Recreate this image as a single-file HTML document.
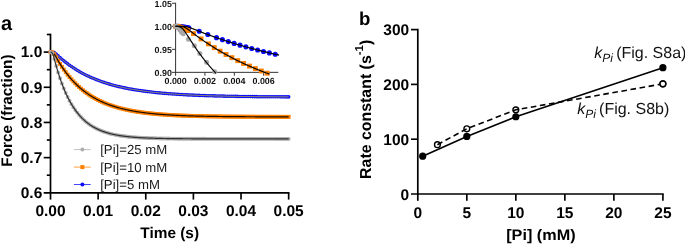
<!DOCTYPE html>
<html lang="en"><head><meta charset="utf-8"><title>Figure</title>
<style>html,body{margin:0;padding:0;background:#fff;}body{width:685px;height:244px;overflow:hidden;}</style>
</head><body>
<svg width="685" height="244" viewBox="0 0 685 244" style="display:block;font-family:'Liberation Sans', Arial, sans-serif;text-rendering:geometricPrecision;will-change:transform">
<rect width="685" height="244" fill="#fff"/>
<g stroke="#000" stroke-width="1.7" fill="none" stroke-linecap="butt">
<path d="M50.5 33.69 V199.60"/>
<path d="M43.70 192.80 H289.47"/>
</g>
<g stroke="#000" stroke-width="1.65" fill="none">
<path d="M43.70 52.10 H50.5"/>
<path d="M43.70 87.28 H50.5"/>
<path d="M43.70 122.45 H50.5"/>
<path d="M43.70 157.63 H50.5"/>
<path d="M46.80 34.51 H50.5"/>
<path d="M46.80 69.69 H50.5"/>
<path d="M46.80 104.86 H50.5"/>
<path d="M46.80 140.04 H50.5"/>
<path d="M46.80 175.21 H50.5"/>
<path d="M98.13 192.80 V199.60"/>
<path d="M145.76 192.80 V199.60"/>
<path d="M193.39 192.80 V199.60"/>
<path d="M241.02 192.80 V199.60"/>
<path d="M288.65 192.80 V199.60"/>
</g>
<defs>
<marker id="mg" markerWidth="5" markerHeight="5" refX="2.5" refY="2.5" markerUnits="userSpaceOnUse"><circle cx="2.5" cy="2.5" r="1.95" fill="#adadad"/></marker>
<marker id="mo" markerWidth="5" markerHeight="5" refX="2.5" refY="2.5" markerUnits="userSpaceOnUse"><rect x="0.55" y="0.55" width="3.9" height="3.9" fill="#ff8000"/></marker>
<marker id="mb" markerWidth="5" markerHeight="5" refX="2.5" refY="2.5" markerUnits="userSpaceOnUse"><circle cx="2.5" cy="2.5" r="1.78" fill="#0a0aff"/></marker>
</defs>
<path d="M50.50 52.10 L52.41 52.12 L54.31 52.55 L56.22 54.09 L58.12 55.88 L60.03 57.61 L61.93 59.26 L63.84 60.85 L65.74 62.37 L67.65 63.83 L69.55 65.22 L71.46 66.56 L73.36 67.84 L75.27 69.07 L77.17 70.24 L79.08 71.37 L80.98 72.45 L82.89 73.48 L84.79 74.47 L86.70 75.42 L88.60 76.33 L90.51 77.20 L92.41 78.04 L94.32 78.84 L96.22 79.60 L98.13 80.34 L100.04 81.04 L101.94 81.71 L103.85 82.36 L105.75 82.98 L107.66 83.57 L109.56 84.14 L111.47 84.68 L113.37 85.20 L115.28 85.70 L117.18 86.18 L119.09 86.64 L120.99 87.08 L122.90 87.50 L124.80 87.90 L126.71 88.29 L128.61 88.66 L130.52 89.01 L132.42 89.35 L134.33 89.68 L136.23 89.99 L138.14 90.29 L140.04 90.58 L141.95 90.85 L143.85 91.11 L145.76 91.37 L147.67 91.61 L149.57 91.84 L151.48 92.06 L153.38 92.27 L155.29 92.47 L157.19 92.67 L159.10 92.86 L161.00 93.04 L162.91 93.21 L164.81 93.37 L166.72 93.53 L168.62 93.68 L170.53 93.82 L172.43 93.96 L174.34 94.09 L176.24 94.22 L178.15 94.34 L180.05 94.46 L181.96 94.57 L183.86 94.68 L185.77 94.78 L187.67 94.88 L189.58 94.97 L191.48 95.06 L193.39 95.15 L195.30 95.23 L197.20 95.31 L199.11 95.39 L201.01 95.46 L202.92 95.53 L204.82 95.60 L206.73 95.66 L208.63 95.72 L210.54 95.78 L212.44 95.84 L214.35 95.89 L216.25 95.94 L218.16 95.99 L220.06 96.04 L221.97 96.08 L223.87 96.13 L225.78 96.17 L227.68 96.21 L229.59 96.25 L231.49 96.28 L233.40 96.32 L235.30 96.35 L237.21 96.39 L239.11 96.42 L241.02 96.45 L242.93 96.47 L244.83 96.50 L246.74 96.53 L248.64 96.55 L250.55 96.58 L252.45 96.60 L254.36 96.62 L256.26 96.64 L258.17 96.66 L260.07 96.68 L261.98 96.70 L263.88 96.72 L265.79 96.74 L267.69 96.75 L269.60 96.77 L271.50 96.78 L273.41 96.80 L275.31 96.81 L277.22 96.82 L279.12 96.84 L281.03 96.85 L282.93 96.86 L284.84 96.87 L286.74 96.88 L288.65 96.89" fill="none" stroke="none" marker-start="url(#mb)" marker-mid="url(#mb)" marker-end="url(#mb)"/>
<path d="M50.50 52.10 L51.29 52.10 L52.09 52.11 L52.88 52.15 L53.68 52.29 L54.47 52.64 L55.26 53.23 L56.06 53.95 L56.85 54.69 L57.64 55.44 L58.44 56.17 L59.23 56.90 L60.03 57.61 L60.82 58.31 L61.61 58.99 L62.41 59.67 L63.20 60.33 L64.00 60.98 L64.79 61.62 L65.58 62.25 L66.38 62.86 L67.17 63.47 L67.96 64.06 L68.76 64.65 L69.55 65.22 L70.35 65.79 L71.14 66.34 L71.93 66.88 L72.73 67.42 L73.52 67.94 L74.31 68.46 L75.11 68.97 L75.90 69.46 L76.70 69.95 L77.49 70.43 L78.28 70.90 L79.08 71.37 L79.87 71.82 L80.67 72.27 L81.46 72.71 L82.25 73.14 L83.05 73.56 L83.84 73.98 L84.63 74.39 L85.43 74.79 L86.22 75.19 L87.02 75.57 L87.81 75.96 L88.60 76.33 L89.40 76.70 L90.19 77.06 L90.99 77.41 L91.78 77.76 L92.57 78.10 L93.37 78.44 L94.16 78.77 L94.95 79.09 L95.75 79.41 L96.54 79.73 L97.34 80.03 L98.13 80.34 L98.92 80.63 L99.72 80.92 L100.51 81.21 L101.31 81.49 L102.10 81.77 L102.89 82.04 L103.69 82.31 L104.48 82.57 L105.27 82.83 L106.07 83.08 L106.86 83.33 L107.66 83.57 L108.45 83.81 L109.24 84.04 L110.04 84.28 L110.83 84.50 L111.63 84.73 L112.42 84.95 L113.21 85.16 L114.01 85.37 L114.80 85.58 L115.59 85.78 L116.39 85.98 L117.18 86.18 L117.98 86.37 L118.77 86.56 L119.56 86.75 L120.36 86.93 L121.15 87.11 L121.94 87.29 L122.74 87.47 L123.53 87.64 L124.33 87.80 L125.12 87.97 L125.91 88.13 L126.71 88.29 L127.50 88.45 L128.30 88.60 L129.09 88.75 L129.88 88.90 L130.68 89.04 L131.47 89.19 L132.26 89.33 L133.06 89.46 L133.85 89.60 L134.65 89.73 L135.44 89.86 L136.23 89.99 L137.03 90.12 L137.82 90.24 L138.62 90.36 L139.41 90.48 L140.20 90.60 L141.00 90.72 L141.79 90.83 L142.58 90.94 L143.38 91.05 L144.17 91.16 L144.97 91.26 L145.76 91.37 L146.55 91.47 L147.35 91.57 L148.14 91.67 L148.94 91.76 L149.73 91.86 L150.52 91.95 L151.32 92.04 L152.11 92.13 L152.90 92.22 L153.70 92.31 L154.49 92.39 L155.29 92.47 L156.08 92.56 L156.87 92.64 L157.67 92.72 L158.46 92.79 L159.26 92.87 L160.05 92.95 L160.84 93.02 L161.64 93.09 L162.43 93.16 L163.22 93.23 L164.02 93.30 L164.81 93.37 L165.61 93.44 L166.40 93.50 L167.19 93.57 L167.99 93.63 L168.78 93.69 L169.57 93.75 L170.37 93.81 L171.16 93.87 L171.96 93.93 L172.75 93.98 L173.54 94.04 L174.34 94.09 L175.13 94.15 L175.93 94.20 L176.72 94.25 L177.51 94.30 L178.31 94.35 L179.10 94.40 L179.89 94.45 L180.69 94.50 L181.48 94.54 L182.28 94.59 L183.07 94.63 L183.86 94.68 L184.66 94.72 L185.45 94.76 L186.25 94.80 L187.04 94.85 L187.83 94.89 L188.63 94.93 L189.42 94.96 L190.21 95.00 L191.01 95.04 L191.80 95.08 L192.60 95.11 L193.39 95.15 L194.18 95.18 L194.98 95.22 L195.77 95.25 L196.57 95.28 L197.36 95.32 L198.15 95.35 L198.95 95.38 L199.74 95.41 L200.53 95.44 L201.33 95.47 L202.12 95.50 L202.92 95.53 L203.71 95.56 L204.50 95.59 L205.30 95.61 L206.09 95.64 L206.89 95.67 L207.68 95.69 L208.47 95.72 L209.27 95.74 L210.06 95.77 L210.85 95.79 L211.65 95.81 L212.44 95.84 L213.24 95.86 L214.03 95.88 L214.82 95.90 L215.62 95.93 L216.41 95.95 L217.20 95.97 L218.00 95.99 L218.79 96.01 L219.59 96.03 L220.38 96.05 L221.17 96.07 L221.97 96.08 L222.76 96.10 L223.56 96.12 L224.35 96.14 L225.14 96.16 L225.94 96.17 L226.73 96.19 L227.52 96.21 L228.32 96.22 L229.11 96.24 L229.91 96.25 L230.70 96.27 L231.49 96.28 L232.29 96.30 L233.08 96.31 L233.88 96.33 L234.67 96.34 L235.46 96.36 L236.26 96.37 L237.05 96.38 L237.84 96.40 L238.64 96.41 L239.43 96.42 L240.23 96.43 L241.02 96.45 L241.81 96.46 L242.61 96.47 L243.40 96.48 L244.20 96.49 L244.99 96.50 L245.78 96.52 L246.58 96.53 L247.37 96.54 L248.16 96.55 L248.96 96.56 L249.75 96.57 L250.55 96.58 L251.34 96.59 L252.13 96.60 L252.93 96.61 L253.72 96.61 L254.52 96.62 L255.31 96.63 L256.10 96.64 L256.90 96.65 L257.69 96.66 L258.48 96.67 L259.28 96.67 L260.07 96.68 L260.87 96.69 L261.66 96.70 L262.45 96.71 L263.25 96.71 L264.04 96.72 L264.83 96.73 L265.63 96.73 L266.42 96.74 L267.22 96.75 L268.01 96.75 L268.80 96.76 L269.60 96.77 L270.39 96.77 L271.19 96.78 L271.98 96.79 L272.77 96.79 L273.57 96.80 L274.36 96.80 L275.15 96.81 L275.95 96.81 L276.74 96.82 L277.54 96.83 L278.33 96.83 L279.12 96.84 L279.92 96.84 L280.71 96.85 L281.51 96.85 L282.30 96.86 L283.09 96.86 L283.89 96.87 L284.68 96.87 L285.47 96.87 L286.27 96.88 L287.06 96.88 L287.86 96.89 L288.65 96.89" fill="none" stroke="#a0a052" stroke-width="1.0"/>
<path d="M50.50 52.10 L52.41 52.28 L54.31 54.11 L56.22 57.43 L58.12 60.73 L60.03 63.86 L61.93 66.81 L63.84 69.59 L65.74 72.22 L67.65 74.71 L69.55 77.06 L71.46 79.27 L73.36 81.37 L75.27 83.34 L77.17 85.21 L79.08 86.97 L80.98 88.64 L82.89 90.21 L84.79 91.70 L86.70 93.10 L88.60 94.42 L90.51 95.68 L92.41 96.86 L94.32 97.97 L96.22 99.03 L98.13 100.02 L100.04 100.96 L101.94 101.85 L103.85 102.69 L105.75 103.48 L107.66 104.23 L109.56 104.93 L111.47 105.60 L113.37 106.23 L115.28 106.82 L117.18 107.39 L119.09 107.92 L120.99 108.42 L122.90 108.89 L124.80 109.34 L126.71 109.76 L128.61 110.16 L130.52 110.53 L132.42 110.89 L134.33 111.23 L136.23 111.54 L138.14 111.84 L140.04 112.12 L141.95 112.39 L143.85 112.64 L145.76 112.88 L147.67 113.11 L149.57 113.32 L151.48 113.52 L153.38 113.71 L155.29 113.89 L157.19 114.06 L159.10 114.22 L161.00 114.37 L162.91 114.51 L164.81 114.64 L166.72 114.77 L168.62 114.89 L170.53 115.00 L172.43 115.11 L174.34 115.21 L176.24 115.31 L178.15 115.40 L180.05 115.48 L181.96 115.56 L183.86 115.64 L185.77 115.71 L187.67 115.78 L189.58 115.84 L191.48 115.90 L193.39 115.96 L195.30 116.01 L197.20 116.06 L199.11 116.11 L201.01 116.16 L202.92 116.20 L204.82 116.24 L206.73 116.28 L208.63 116.31 L210.54 116.35 L212.44 116.38 L214.35 116.41 L216.25 116.44 L218.16 116.47 L220.06 116.49 L221.97 116.52 L223.87 116.54 L225.78 116.56 L227.68 116.58 L229.59 116.60 L231.49 116.62 L233.40 116.64 L235.30 116.65 L237.21 116.67 L239.11 116.68 L241.02 116.70 L242.93 116.71 L244.83 116.72 L246.74 116.73 L248.64 116.74 L250.55 116.75 L252.45 116.76 L254.36 116.77 L256.26 116.78 L258.17 116.79 L260.07 116.80 L261.98 116.80 L263.88 116.81 L265.79 116.82 L267.69 116.82 L269.60 116.83 L271.50 116.83 L273.41 116.84 L275.31 116.84 L277.22 116.85 L279.12 116.85 L281.03 116.86 L282.93 116.86 L284.84 116.87 L286.74 116.87 L288.65 116.87" fill="none" stroke="none" marker-start="url(#mo)" marker-mid="url(#mo)" marker-end="url(#mo)"/>
<path d="M50.50 52.10 L51.29 52.12 L52.09 52.21 L52.88 52.49 L53.68 53.21 L54.47 54.36 L55.26 55.73 L56.06 57.15 L56.85 58.55 L57.64 59.92 L58.44 61.26 L59.23 62.58 L60.03 63.86 L60.82 65.11 L61.61 66.33 L62.41 67.52 L63.20 68.68 L64.00 69.82 L64.79 70.93 L65.58 72.01 L66.38 73.07 L67.17 74.10 L67.96 75.11 L68.76 76.10 L69.55 77.06 L70.35 78.00 L71.14 78.91 L71.93 79.81 L72.73 80.68 L73.52 81.54 L74.31 82.37 L75.11 83.18 L75.90 83.98 L76.70 84.75 L77.49 85.51 L78.28 86.25 L79.08 86.97 L79.87 87.68 L80.67 88.37 L81.46 89.04 L82.25 89.70 L83.05 90.34 L83.84 90.97 L84.63 91.58 L85.43 92.17 L86.22 92.76 L87.02 93.33 L87.81 93.88 L88.60 94.42 L89.40 94.95 L90.19 95.47 L90.99 95.98 L91.78 96.47 L92.57 96.95 L93.37 97.42 L94.16 97.88 L94.95 98.33 L95.75 98.77 L96.54 99.20 L97.34 99.61 L98.13 100.02 L98.92 100.42 L99.72 100.81 L100.51 101.19 L101.31 101.56 L102.10 101.92 L102.89 102.27 L103.69 102.62 L104.48 102.96 L105.27 103.29 L106.07 103.61 L106.86 103.92 L107.66 104.23 L108.45 104.53 L109.24 104.82 L110.04 105.10 L110.83 105.38 L111.63 105.65 L112.42 105.92 L113.21 106.18 L114.01 106.43 L114.80 106.68 L115.59 106.92 L116.39 107.16 L117.18 107.39 L117.98 107.61 L118.77 107.83 L119.56 108.04 L120.36 108.25 L121.15 108.46 L121.94 108.66 L122.74 108.85 L123.53 109.04 L124.33 109.23 L125.12 109.41 L125.91 109.59 L126.71 109.76 L127.50 109.93 L128.30 110.09 L129.09 110.25 L129.88 110.41 L130.68 110.56 L131.47 110.71 L132.26 110.86 L133.06 111.00 L133.85 111.14 L134.65 111.28 L135.44 111.41 L136.23 111.54 L137.03 111.67 L137.82 111.79 L138.62 111.91 L139.41 112.03 L140.20 112.15 L141.00 112.26 L141.79 112.37 L142.58 112.48 L143.38 112.58 L144.17 112.68 L144.97 112.78 L145.76 112.88 L146.55 112.98 L147.35 113.07 L148.14 113.16 L148.94 113.25 L149.73 113.34 L150.52 113.42 L151.32 113.50 L152.11 113.58 L152.90 113.66 L153.70 113.74 L154.49 113.81 L155.29 113.89 L156.08 113.96 L156.87 114.03 L157.67 114.10 L158.46 114.16 L159.26 114.23 L160.05 114.29 L160.84 114.36 L161.64 114.42 L162.43 114.47 L163.22 114.53 L164.02 114.59 L164.81 114.64 L165.61 114.70 L166.40 114.75 L167.19 114.80 L167.99 114.85 L168.78 114.90 L169.57 114.95 L170.37 115.00 L171.16 115.04 L171.96 115.08 L172.75 115.13 L173.54 115.17 L174.34 115.21 L175.13 115.25 L175.93 115.29 L176.72 115.33 L177.51 115.37 L178.31 115.40 L179.10 115.44 L179.89 115.48 L180.69 115.51 L181.48 115.54 L182.28 115.58 L183.07 115.61 L183.86 115.64 L184.66 115.67 L185.45 115.70 L186.25 115.73 L187.04 115.76 L187.83 115.78 L188.63 115.81 L189.42 115.84 L190.21 115.86 L191.01 115.89 L191.80 115.91 L192.60 115.94 L193.39 115.96 L194.18 115.98 L194.98 116.00 L195.77 116.03 L196.57 116.05 L197.36 116.07 L198.15 116.09 L198.95 116.11 L199.74 116.13 L200.53 116.15 L201.33 116.16 L202.12 116.18 L202.92 116.20 L203.71 116.22 L204.50 116.23 L205.30 116.25 L206.09 116.27 L206.89 116.28 L207.68 116.30 L208.47 116.31 L209.27 116.33 L210.06 116.34 L210.85 116.35 L211.65 116.37 L212.44 116.38 L213.24 116.39 L214.03 116.41 L214.82 116.42 L215.62 116.43 L216.41 116.44 L217.20 116.45 L218.00 116.47 L218.79 116.48 L219.59 116.49 L220.38 116.50 L221.17 116.51 L221.97 116.52 L222.76 116.53 L223.56 116.54 L224.35 116.55 L225.14 116.55 L225.94 116.56 L226.73 116.57 L227.52 116.58 L228.32 116.59 L229.11 116.60 L229.91 116.60 L230.70 116.61 L231.49 116.62 L232.29 116.63 L233.08 116.63 L233.88 116.64 L234.67 116.65 L235.46 116.65 L236.26 116.66 L237.05 116.67 L237.84 116.67 L238.64 116.68 L239.43 116.68 L240.23 116.69 L241.02 116.70 L241.81 116.70 L242.61 116.71 L243.40 116.71 L244.20 116.72 L244.99 116.72 L245.78 116.73 L246.58 116.73 L247.37 116.74 L248.16 116.74 L248.96 116.74 L249.75 116.75 L250.55 116.75 L251.34 116.76 L252.13 116.76 L252.93 116.77 L253.72 116.77 L254.52 116.77 L255.31 116.78 L256.10 116.78 L256.90 116.78 L257.69 116.79 L258.48 116.79 L259.28 116.79 L260.07 116.80 L260.87 116.80 L261.66 116.80 L262.45 116.81 L263.25 116.81 L264.04 116.81 L264.83 116.81 L265.63 116.82 L266.42 116.82 L267.22 116.82 L268.01 116.82 L268.80 116.83 L269.60 116.83 L270.39 116.83 L271.19 116.83 L271.98 116.84 L272.77 116.84 L273.57 116.84 L274.36 116.84 L275.15 116.84 L275.95 116.85 L276.74 116.85 L277.54 116.85 L278.33 116.85 L279.12 116.85 L279.92 116.86 L280.71 116.86 L281.51 116.86 L282.30 116.86 L283.09 116.86 L283.89 116.86 L284.68 116.87 L285.47 116.87 L286.27 116.87 L287.06 116.87 L287.86 116.87 L288.65 116.87" fill="none" stroke="#1a0d00" stroke-width="1.2"/>
<path d="M50.50 52.10 L52.41 53.26 L54.31 58.93 L56.22 65.92 L58.12 72.38 L60.03 78.27 L61.93 83.64 L63.84 88.54 L65.74 93.00 L67.65 97.06 L69.55 100.77 L71.46 104.15 L73.36 107.23 L75.27 110.03 L77.17 112.59 L79.08 114.92 L80.98 117.04 L82.89 118.98 L84.79 120.74 L86.70 122.35 L88.60 123.81 L90.51 125.15 L92.41 126.36 L94.32 127.47 L96.22 128.48 L98.13 129.40 L100.04 130.24 L101.94 131.01 L103.85 131.71 L105.75 132.34 L107.66 132.92 L109.56 133.45 L111.47 133.93 L113.37 134.37 L115.28 134.77 L117.18 135.13 L119.09 135.46 L120.99 135.77 L122.90 136.04 L124.80 136.29 L126.71 136.52 L128.61 136.73 L130.52 136.92 L132.42 137.09 L134.33 137.25 L136.23 137.40 L138.14 137.53 L140.04 137.65 L141.95 137.76 L143.85 137.86 L145.76 137.95 L147.67 138.03 L149.57 138.10 L151.48 138.17 L153.38 138.23 L155.29 138.29 L157.19 138.34 L159.10 138.39 L161.00 138.43 L162.91 138.47 L164.81 138.51 L166.72 138.54 L168.62 138.57 L170.53 138.60 L172.43 138.62 L174.34 138.65 L176.24 138.67 L178.15 138.68 L180.05 138.70 L181.96 138.72 L183.86 138.73 L185.77 138.74 L187.67 138.76 L189.58 138.77 L191.48 138.78 L193.39 138.79 L195.30 138.79 L197.20 138.80 L199.11 138.81 L201.01 138.81 L202.92 138.82 L204.82 138.82 L206.73 138.83 L208.63 138.83 L210.54 138.84 L212.44 138.84 L214.35 138.84 L216.25 138.85 L218.16 138.85 L220.06 138.85 L221.97 138.85 L223.87 138.86 L225.78 138.86 L227.68 138.86 L229.59 138.86 L231.49 138.86 L233.40 138.86 L235.30 138.86 L237.21 138.87 L239.11 138.87 L241.02 138.87 L242.93 138.87 L244.83 138.87 L246.74 138.87 L248.64 138.87 L250.55 138.87 L252.45 138.87 L254.36 138.87 L256.26 138.87 L258.17 138.87 L260.07 138.87 L261.98 138.87 L263.88 138.87 L265.79 138.87 L267.69 138.87 L269.60 138.87 L271.50 138.87 L273.41 138.87 L275.31 138.88 L277.22 138.88 L279.12 138.88 L281.03 138.88 L282.93 138.88 L284.84 138.88 L286.74 138.88 L288.65 138.88" fill="none" stroke="none" marker-start="url(#mg)" marker-mid="url(#mg)" marker-end="url(#mg)"/>
<path d="M50.50 52.10 L51.29 52.26 L52.09 52.82 L52.88 54.25 L53.68 56.65 L54.47 59.52 L55.26 62.47 L56.06 65.35 L56.85 68.14 L57.64 70.82 L58.44 73.40 L59.23 75.88 L60.03 78.27 L60.82 80.57 L61.61 82.78 L62.41 84.91 L63.20 86.96 L64.00 88.93 L64.79 90.82 L65.58 92.64 L66.38 94.40 L67.17 96.08 L67.96 97.71 L68.76 99.27 L69.55 100.77 L70.35 102.22 L71.14 103.61 L71.93 104.94 L72.73 106.23 L73.52 107.47 L74.31 108.66 L75.11 109.81 L75.90 110.91 L76.70 111.97 L77.49 112.99 L78.28 113.97 L79.08 114.92 L79.87 115.83 L80.67 116.70 L81.46 117.54 L82.25 118.35 L83.05 119.13 L83.84 119.88 L84.63 120.60 L85.43 121.29 L86.22 121.96 L87.02 122.60 L87.81 123.22 L88.60 123.81 L89.40 124.38 L90.19 124.93 L90.99 125.46 L91.78 125.97 L92.57 126.46 L93.37 126.93 L94.16 127.38 L94.95 127.82 L95.75 128.24 L96.54 128.64 L97.34 129.03 L98.13 129.40 L98.92 129.76 L99.72 130.11 L100.51 130.44 L101.31 130.76 L102.10 131.07 L102.89 131.37 L103.69 131.65 L104.48 131.92 L105.27 132.19 L106.07 132.44 L106.86 132.69 L107.66 132.92 L108.45 133.15 L109.24 133.36 L110.04 133.57 L110.83 133.77 L111.63 133.97 L112.42 134.15 L113.21 134.33 L114.01 134.51 L114.80 134.67 L115.59 134.83 L116.39 134.98 L117.18 135.13 L117.98 135.27 L118.77 135.41 L119.56 135.54 L120.36 135.67 L121.15 135.79 L121.94 135.91 L122.74 136.02 L123.53 136.13 L124.33 136.23 L125.12 136.33 L125.91 136.43 L126.71 136.52 L127.50 136.61 L128.30 136.70 L129.09 136.78 L129.88 136.86 L130.68 136.94 L131.47 137.01 L132.26 137.08 L133.06 137.15 L133.85 137.21 L134.65 137.28 L135.44 137.34 L136.23 137.40 L137.03 137.45 L137.82 137.51 L138.62 137.56 L139.41 137.61 L140.20 137.66 L141.00 137.70 L141.79 137.75 L142.58 137.79 L143.38 137.83 L144.17 137.87 L144.97 137.91 L145.76 137.95 L146.55 137.98 L147.35 138.02 L148.14 138.05 L148.94 138.08 L149.73 138.11 L150.52 138.14 L151.32 138.17 L152.11 138.19 L152.90 138.22 L153.70 138.24 L154.49 138.27 L155.29 138.29 L156.08 138.31 L156.87 138.33 L157.67 138.36 L158.46 138.38 L159.26 138.39 L160.05 138.41 L160.84 138.43 L161.64 138.45 L162.43 138.46 L163.22 138.48 L164.02 138.49 L164.81 138.51 L165.61 138.52 L166.40 138.54 L167.19 138.55 L167.99 138.56 L168.78 138.57 L169.57 138.58 L170.37 138.60 L171.16 138.61 L171.96 138.62 L172.75 138.63 L173.54 138.64 L174.34 138.65 L175.13 138.65 L175.93 138.66 L176.72 138.67 L177.51 138.68 L178.31 138.69 L179.10 138.69 L179.89 138.70 L180.69 138.71 L181.48 138.71 L182.28 138.72 L183.07 138.73 L183.86 138.73 L184.66 138.74 L185.45 138.74 L186.25 138.75 L187.04 138.75 L187.83 138.76 L188.63 138.76 L189.42 138.77 L190.21 138.77 L191.01 138.77 L191.80 138.78 L192.60 138.78 L193.39 138.79 L194.18 138.79 L194.98 138.79 L195.77 138.80 L196.57 138.80 L197.36 138.80 L198.15 138.80 L198.95 138.81 L199.74 138.81 L200.53 138.81 L201.33 138.81 L202.12 138.82 L202.92 138.82 L203.71 138.82 L204.50 138.82 L205.30 138.83 L206.09 138.83 L206.89 138.83 L207.68 138.83 L208.47 138.83 L209.27 138.83 L210.06 138.84 L210.85 138.84 L211.65 138.84 L212.44 138.84 L213.24 138.84 L214.03 138.84 L214.82 138.84 L215.62 138.85 L216.41 138.85 L217.20 138.85 L218.00 138.85 L218.79 138.85 L219.59 138.85 L220.38 138.85 L221.17 138.85 L221.97 138.85 L222.76 138.85 L223.56 138.86 L224.35 138.86 L225.14 138.86 L225.94 138.86 L226.73 138.86 L227.52 138.86 L228.32 138.86 L229.11 138.86 L229.91 138.86 L230.70 138.86 L231.49 138.86 L232.29 138.86 L233.08 138.86 L233.88 138.86 L234.67 138.86 L235.46 138.86 L236.26 138.87 L237.05 138.87 L237.84 138.87 L238.64 138.87 L239.43 138.87 L240.23 138.87 L241.02 138.87 L241.81 138.87 L242.61 138.87 L243.40 138.87 L244.20 138.87 L244.99 138.87 L245.78 138.87 L246.58 138.87 L247.37 138.87 L248.16 138.87 L248.96 138.87 L249.75 138.87 L250.55 138.87 L251.34 138.87 L252.13 138.87 L252.93 138.87 L253.72 138.87 L254.52 138.87 L255.31 138.87 L256.10 138.87 L256.90 138.87 L257.69 138.87 L258.48 138.87 L259.28 138.87 L260.07 138.87 L260.87 138.87 L261.66 138.87 L262.45 138.87 L263.25 138.87 L264.04 138.87 L264.83 138.87 L265.63 138.87 L266.42 138.87 L267.22 138.87 L268.01 138.87 L268.80 138.87 L269.60 138.87 L270.39 138.87 L271.19 138.87 L271.98 138.87 L272.77 138.87 L273.57 138.87 L274.36 138.87 L275.15 138.88 L275.95 138.88 L276.74 138.88 L277.54 138.88 L278.33 138.88 L279.12 138.88 L279.92 138.88 L280.71 138.88 L281.51 138.88 L282.30 138.88 L283.09 138.88 L283.89 138.88 L284.68 138.88 L285.47 138.88 L286.27 138.88 L287.06 138.88 L287.86 138.88 L288.65 138.88" fill="none" stroke="#303030" stroke-width="1.2"/>
<g font-weight="bold" font-size="15.5" fill="#000">
<text x="42.3" y="57.40" text-anchor="end">1.0</text>
<text x="42.3" y="92.58" text-anchor="end">0.9</text>
<text x="42.3" y="127.75" text-anchor="end">0.8</text>
<text x="42.3" y="162.93" text-anchor="end">0.7</text>
<text x="42.3" y="198.10" text-anchor="end">0.6</text>
<text x="50.50" y="215.8" text-anchor="middle">0.00</text>
<text x="98.13" y="215.8" text-anchor="middle">0.01</text>
<text x="145.76" y="215.8" text-anchor="middle">0.02</text>
<text x="193.39" y="215.8" text-anchor="middle">0.03</text>
<text x="241.02" y="215.8" text-anchor="middle">0.04</text>
<text x="288.65" y="215.8" text-anchor="middle">0.05</text>
</g>
<text x="169.7" y="237.7" font-weight="bold" font-size="15.4" text-anchor="middle">Time (s)</text>
<text transform="translate(11.9 110.6) rotate(-90)" font-weight="bold" font-size="15.3" text-anchor="middle">Force (fraction)</text>
<text x="1.0" y="29.7" font-weight="bold" font-size="20">a</text>
<path d="M73.9 149.6 H90.7" stroke="#adadad" stroke-width="1" opacity="0.75"/>
<circle cx="82.4" cy="149.6" r="2.0" fill="#adadad"/>
<text x="100.2" y="154.2" font-size="13.2" fill="#1a1a1a">[Pi]=25 mM</text>
<path d="M73.9 167.1 H90.7" stroke="#ff8000" stroke-width="1" opacity="0.75"/>
<rect x="80.4" y="165.1" width="4" height="4" fill="#ff8000"/>
<text x="100.2" y="171.7" font-size="13.2" fill="#1a1a1a">[Pi]=10 mM</text>
<path d="M73.9 184.5 H90.7" stroke="#0a0aff" stroke-width="1" opacity="0.75"/>
<circle cx="82.4" cy="184.5" r="2.0" fill="#0a0aff"/>
<text x="100.2" y="189.1" font-size="13.2" fill="#1a1a1a">[Pi]=5 mM</text>
<g stroke="#333" stroke-width="1" fill="none">
<path d="M175.6 2.77 V72.85"/>
<path d="M175.1 72.35 H278.32"/>
<path d="M172.00 3.27 H175.6"/>
<path d="M172.00 26.30 H175.6"/>
<path d="M172.00 49.33 H175.6"/>
<path d="M172.00 72.35 H175.6"/>
<path d="M175.60 72.35 V75.75"/>
<path d="M204.95 72.35 V75.75"/>
<path d="M234.30 72.35 V75.75"/>
<path d="M263.65 72.35 V75.75"/>
</g>
<circle cx="175.60" cy="26.30" r="2.55" fill="#0a0aff"/>
<circle cx="177.07" cy="26.33" r="2.55" fill="#0a0aff"/>
<circle cx="178.54" cy="26.39" r="2.55" fill="#0a0aff"/>
<circle cx="180.01" cy="26.50" r="2.55" fill="#0a0aff"/>
<circle cx="181.48" cy="26.67" r="2.55" fill="#0a0aff"/>
<circle cx="182.95" cy="26.83" r="2.55" fill="#0a0aff"/>
<circle cx="184.42" cy="27.03" r="2.55" fill="#0a0aff"/>
<circle cx="185.89" cy="27.28" r="2.55" fill="#0a0aff"/>
<circle cx="187.36" cy="27.58" r="2.55" fill="#0a0aff"/>
<circle cx="188.83" cy="27.92" r="2.55" fill="#0a0aff"/>
<circle cx="199.20" cy="31.29" r="2.55" fill="#0a0aff"/>
<circle cx="207.80" cy="34.56" r="2.55" fill="#0a0aff"/>
<circle cx="216.50" cy="37.67" r="2.55" fill="#0a0aff"/>
<circle cx="222.40" cy="39.67" r="2.55" fill="#0a0aff"/>
<circle cx="228.27" cy="41.58" r="2.55" fill="#0a0aff"/>
<circle cx="234.14" cy="43.41" r="2.55" fill="#0a0aff"/>
<circle cx="240.01" cy="45.17" r="2.55" fill="#0a0aff"/>
<circle cx="245.88" cy="46.84" r="2.55" fill="#0a0aff"/>
<circle cx="251.75" cy="48.45" r="2.55" fill="#0a0aff"/>
<circle cx="257.62" cy="49.99" r="2.55" fill="#0a0aff"/>
<circle cx="263.49" cy="51.47" r="2.55" fill="#0a0aff"/>
<circle cx="269.36" cy="52.89" r="2.55" fill="#0a0aff"/>
<circle cx="275.23" cy="54.24" r="2.55" fill="#0a0aff"/>
<rect x="173.15" y="23.85" width="4.9" height="4.9" fill="#ff8000"/>
<rect x="174.62" y="23.99" width="4.9" height="4.9" fill="#ff8000"/>
<rect x="176.09" y="24.25" width="4.9" height="4.9" fill="#ff8000"/>
<rect x="177.56" y="24.68" width="4.9" height="4.9" fill="#ff8000"/>
<rect x="179.03" y="25.30" width="4.9" height="4.9" fill="#ff8000"/>
<rect x="180.50" y="25.80" width="4.9" height="4.9" fill="#ff8000"/>
<rect x="181.97" y="26.40" width="4.9" height="4.9" fill="#ff8000"/>
<rect x="183.44" y="27.06" width="4.9" height="4.9" fill="#ff8000"/>
<rect x="185.45" y="28.07" width="4.9" height="4.9" fill="#ff8000"/>
<rect x="191.05" y="31.21" width="4.9" height="4.9" fill="#ff8000"/>
<rect x="198.55" y="36.43" width="4.9" height="4.9" fill="#ff8000"/>
<rect x="205.95" y="41.45" width="4.9" height="4.9" fill="#ff8000"/>
<rect x="211.82" y="45.19" width="4.9" height="4.9" fill="#ff8000"/>
<rect x="217.69" y="48.72" width="4.9" height="4.9" fill="#ff8000"/>
<rect x="223.56" y="52.06" width="4.9" height="4.9" fill="#ff8000"/>
<rect x="229.43" y="55.21" width="4.9" height="4.9" fill="#ff8000"/>
<rect x="235.30" y="58.18" width="4.9" height="4.9" fill="#ff8000"/>
<rect x="241.17" y="60.99" width="4.9" height="4.9" fill="#ff8000"/>
<rect x="247.04" y="63.65" width="4.9" height="4.9" fill="#ff8000"/>
<rect x="252.91" y="66.15" width="4.9" height="4.9" fill="#ff8000"/>
<rect x="258.78" y="68.52" width="4.9" height="4.9" fill="#ff8000"/>
<rect x="264.65" y="70.75" width="4.9" height="4.9" fill="#ff8000"/>
<circle cx="175.60" cy="26.30" r="2.5" fill="#a8a8a8"/>
<circle cx="177.07" cy="26.97" r="2.5" fill="#a8a8a8"/>
<circle cx="178.54" cy="28.16" r="2.5" fill="#a8a8a8"/>
<circle cx="180.01" cy="29.94" r="2.5" fill="#a8a8a8"/>
<circle cx="181.48" cy="32.14" r="2.5" fill="#a8a8a8"/>
<circle cx="183.30" cy="33.87" r="2.5" fill="#a8a8a8"/>
<circle cx="188.40" cy="39.31" r="2.5" fill="#a8a8a8"/>
<circle cx="194.30" cy="45.85" r="2.5" fill="#a8a8a8"/>
<circle cx="199.80" cy="53.50" r="2.5" fill="#a8a8a8"/>
<circle cx="206.60" cy="62.30" r="2.5" fill="#a8a8a8"/>
<circle cx="214.80" cy="71.73" r="2.5" fill="#a8a8a8"/>
<path d="M175.60 26.30 L175.94 26.32 L176.27 26.33 L176.61 26.36 L176.95 26.38 L177.28 26.41 L177.62 26.45 L177.95 26.50 L178.29 26.55 L178.63 26.62 L178.96 26.69 L179.30 26.78 L179.64 26.89 L179.97 27.01 L180.31 27.15 L180.64 27.31 L180.98 27.50 L181.32 27.71 L181.65 27.95 L181.99 28.22 L182.33 28.51 L182.66 28.83 L183.00 29.18 L183.33 29.55 L183.67 29.94 L184.01 30.36 L184.34 30.80 L184.68 31.26 L185.02 31.73 L185.35 32.21 L185.69 32.71 L186.03 33.21 L186.36 33.73 L186.70 34.24 L187.03 34.77 L187.37 35.29 L187.71 35.82 L188.04 36.35 L188.38 36.89 L188.72 37.42 L189.05 37.95 L189.39 38.48 L189.72 39.01 L190.06 39.54 L190.40 40.06 L190.73 40.59 L191.07 41.11 L191.41 41.63 L191.74 42.15 L192.08 42.67 L192.42 43.18 L192.75 43.69 L193.09 44.20 L193.42 44.71 L193.76 45.21 L194.10 45.71 L194.43 46.21 L194.77 46.71 L195.11 47.20 L195.44 47.69 L195.78 48.18 L196.11 48.67 L196.45 49.15 L196.79 49.63 L197.12 50.11 L197.46 50.59 L197.80 51.06 L198.13 51.53 L198.47 52.00 L198.80 52.47 L199.14 52.93 L199.48 53.39 L199.81 53.85 L200.15 54.31 L200.49 54.76 L200.82 55.21 L201.16 55.66 L201.50 56.11 L201.83 56.55 L202.17 56.99 L202.50 57.43 L202.84 57.87 L203.18 58.31 L203.51 58.74 L203.85 59.17 L204.19 59.60 L204.52 60.02 L204.86 60.45 L205.19 60.87 L205.53 61.29 L205.87 61.70 L206.20 62.12 L206.54 62.53 L206.88 62.94 L207.21 63.35 L207.55 63.76 L207.88 64.16 L208.22 64.56 L208.56 64.96 L208.89 65.36 L209.23 65.75 L209.57 66.15 L209.90 66.54 L210.24 66.93 L210.58 67.31 L210.91 67.70 L211.25 68.08 L211.58 68.46 L211.92 68.84 L212.26 69.22 L212.59 69.59 L212.93 69.97 L213.27 70.34 L213.60 70.71 L213.94 71.07 L214.27 71.44 L214.61 71.80 L214.95 72.16 L215.28 72.52 L215.62 72.88 L215.96 73.23" fill="none" stroke="#000" stroke-width="1.15"/>
<path d="M175.60 26.30 L176.38 26.31 L177.17 26.31 L177.95 26.33 L178.73 26.35 L179.51 26.38 L180.30 26.42 L181.08 26.50 L181.86 26.60 L182.64 26.75 L183.43 26.95 L184.21 27.22 L184.99 27.55 L185.77 27.96 L186.56 28.42 L187.34 28.93 L188.12 29.47 L188.91 30.04 L189.69 30.62 L190.47 31.20 L191.25 31.80 L192.04 32.39 L192.82 32.98 L193.60 33.57 L194.38 34.16 L195.17 34.74 L195.95 35.32 L196.73 35.90 L197.51 36.47 L198.30 37.04 L199.08 37.60 L199.86 38.16 L200.65 38.71 L201.43 39.26 L202.21 39.81 L202.99 40.35 L203.78 40.89 L204.56 41.42 L205.34 41.95 L206.12 42.48 L206.91 43.00 L207.69 43.52 L208.47 44.03 L209.25 44.54 L210.04 45.05 L210.82 45.55 L211.60 46.05 L212.39 46.55 L213.17 47.04 L213.95 47.52 L214.73 48.01 L215.52 48.49 L216.30 48.96 L217.08 49.44 L217.86 49.91 L218.65 50.37 L219.43 50.83 L220.21 51.29 L220.99 51.75 L221.78 52.20 L222.56 52.65 L223.34 53.09 L224.13 53.53 L224.91 53.97 L225.69 54.40 L226.47 54.84 L227.26 55.26 L228.04 55.69 L228.82 56.11 L229.60 56.53 L230.39 56.94 L231.17 57.36 L231.95 57.76 L232.73 58.17 L233.52 58.57 L234.30 58.97 L235.08 59.37 L235.87 59.76 L236.65 60.15 L237.43 60.54 L238.21 60.93 L239.00 61.31 L239.78 61.69 L240.56 62.06 L241.34 62.44 L242.13 62.81 L242.91 63.17 L243.69 63.54 L244.47 63.90 L245.26 64.26 L246.04 64.61 L246.82 64.97 L247.61 65.32 L248.39 65.67 L249.17 66.01 L249.95 66.36 L250.74 66.70 L251.52 67.04 L252.30 67.37 L253.08 67.70 L253.87 68.03 L254.65 68.36 L255.43 68.69 L256.21 69.01 L257.00 69.33 L257.78 69.65 L258.56 69.96 L259.35 70.28 L260.13 70.59 L260.91 70.90 L261.69 71.20 L262.48 71.50 L263.26 71.81 L264.04 72.11 L264.82 72.40 L265.61 72.70 L266.39 72.99 L267.17 73.28 L267.95 73.57 L268.74 73.85 L269.52 74.14" fill="none" stroke="#000" stroke-width="1.15"/>
<path d="M175.60 26.30 L176.46 26.30 L177.32 26.30 L178.19 26.30 L179.05 26.31 L179.91 26.31 L180.77 26.32 L181.64 26.33 L182.50 26.35 L183.36 26.39 L184.22 26.44 L185.08 26.51 L185.95 26.62 L186.81 26.77 L187.67 26.97 L188.53 27.20 L189.39 27.47 L190.26 27.77 L191.12 28.09 L191.98 28.42 L192.84 28.76 L193.71 29.11 L194.57 29.45 L195.43 29.80 L196.29 30.15 L197.15 30.49 L198.02 30.83 L198.88 31.17 L199.74 31.51 L200.60 31.85 L201.46 32.18 L202.33 32.51 L203.19 32.84 L204.05 33.17 L204.91 33.50 L205.78 33.82 L206.64 34.15 L207.50 34.47 L208.36 34.78 L209.22 35.10 L210.09 35.41 L210.95 35.73 L211.81 36.04 L212.67 36.34 L213.53 36.65 L214.40 36.96 L215.26 37.26 L216.12 37.56 L216.98 37.86 L217.85 38.15 L218.71 38.45 L219.57 38.74 L220.43 39.03 L221.29 39.32 L222.16 39.61 L223.02 39.90 L223.88 40.18 L224.74 40.46 L225.61 40.75 L226.47 41.02 L227.33 41.30 L228.19 41.58 L229.05 41.85 L229.92 42.12 L230.78 42.39 L231.64 42.66 L232.50 42.93 L233.36 43.19 L234.23 43.46 L235.09 43.72 L235.95 43.98 L236.81 44.24 L237.68 44.49 L238.54 44.75 L239.40 45.00 L240.26 45.26 L241.12 45.51 L241.99 45.75 L242.85 46.00 L243.71 46.25 L244.57 46.49 L245.43 46.74 L246.30 46.98 L247.16 47.22 L248.02 47.45 L248.88 47.69 L249.75 47.93 L250.61 48.16 L251.47 48.39 L252.33 48.62 L253.19 48.85 L254.06 49.08 L254.92 49.31 L255.78 49.53 L256.64 49.76 L257.50 49.98 L258.37 50.20 L259.23 50.42 L260.09 50.64 L260.95 50.86 L261.82 51.07 L262.68 51.28 L263.54 51.50 L264.40 51.71 L265.26 51.92 L266.13 52.13 L266.99 52.34 L267.85 52.54 L268.71 52.75 L269.58 52.95 L270.44 53.15 L271.30 53.35 L272.16 53.55 L273.02 53.75 L273.89 53.95 L274.75 54.15 L275.61 54.34 L276.47 54.53 L277.33 54.73 L278.20 54.92 L279.06 55.11" fill="none" stroke="#000" stroke-width="1.15"/>
<g font-weight="bold" font-size="8.9" fill="#111">
<text x="171.9" y="6.57" text-anchor="end">1.05</text>
<text x="171.9" y="29.60" text-anchor="end">1.00</text>
<text x="171.9" y="52.63" text-anchor="end">0.95</text>
<text x="171.9" y="75.65" text-anchor="end">0.90</text>
<text x="175.60" y="84.0" text-anchor="middle">0.000</text>
<text x="204.95" y="84.0" text-anchor="middle">0.002</text>
<text x="234.30" y="84.0" text-anchor="middle">0.004</text>
<text x="263.65" y="84.0" text-anchor="middle">0.006</text>
</g>
<g stroke="#000" stroke-width="1.7" fill="none">
<path d="M417.8 28.77 V200.80"/>
<path d="M411.00 194.00 H663.73"/>
</g>
<g stroke="#000" stroke-width="1.65" fill="none">
<path d="M411.00 139.20 H417.8"/>
<path d="M411.00 84.40 H417.8"/>
<path d="M411.00 29.60 H417.8"/>
<path d="M466.82 194.00 V200.80"/>
<path d="M515.84 194.00 V200.80"/>
<path d="M564.86 194.00 V200.80"/>
<path d="M613.88 194.00 V200.80"/>
<path d="M662.90 194.00 V200.80"/>
</g>
<g font-weight="bold" font-size="15.5" fill="#000">
<text x="409.2" y="199.70" text-anchor="end">0</text>
<text x="409.2" y="144.90" text-anchor="end">100</text>
<text x="409.2" y="90.10" text-anchor="end">200</text>
<text x="409.2" y="35.30" text-anchor="end">300</text>
<text x="417.80" y="217.8" text-anchor="middle">0</text>
<text x="466.82" y="217.8" text-anchor="middle">5</text>
<text x="515.84" y="217.8" text-anchor="middle">10</text>
<text x="564.86" y="217.8" text-anchor="middle">15</text>
<text x="613.88" y="217.8" text-anchor="middle">20</text>
<text x="662.90" y="217.8" text-anchor="middle">25</text>
</g>
<text x="540.9" y="239.6" font-weight="bold" font-size="15.2" text-anchor="middle" textLength="69.4" lengthAdjust="spacingAndGlyphs">[Pi] (mM)</text>
<text transform="translate(371 109.3) rotate(-90)" font-weight="bold" font-size="15.9" text-anchor="middle">Rate constant (s<tspan font-size="11.5" dy="-7.8">-1</tspan><tspan dy="7.8">)</tspan></text>
<text x="358.9" y="25.3" font-weight="bold" font-size="18.6">b</text>
<path d="M422.70 156.19 L466.82 136.46 L515.84 116.73 L662.90 67.69" fill="none" stroke="#000" stroke-width="1.6"/>
<circle cx="422.70" cy="156.19" r="3.6" fill="#000"/>
<circle cx="466.82" cy="136.46" r="3.6" fill="#000"/>
<circle cx="515.84" cy="116.73" r="3.6" fill="#000"/>
<circle cx="662.90" cy="67.69" r="3.6" fill="#000"/>
<circle cx="437.41" cy="144.68" r="2.9" fill="#fff" stroke="#000" stroke-width="1.4"/>
<circle cx="466.82" cy="128.79" r="2.9" fill="#fff" stroke="#000" stroke-width="1.4"/>
<circle cx="515.84" cy="109.83" r="2.9" fill="#fff" stroke="#000" stroke-width="1.4"/>
<circle cx="662.90" cy="83.85" r="2.9" fill="#fff" stroke="#000" stroke-width="1.4"/>
<path d="M437.41 144.68 L466.82 128.79 L515.84 109.83 L662.90 83.85" fill="none" stroke="#000" stroke-width="1.6" stroke-dasharray="5.6 3.6"/>
<circle cx="662.90" cy="83.85" r="2.9" fill="#fff" stroke="#000" stroke-width="1.4"/>
<text x="594.3" y="58.0" font-size="16" fill="#111"><tspan font-style="italic">k</tspan><tspan font-style="italic" font-size="12" dy="3.6">Pi</tspan><tspan dy="-3.6" dx="3.2">(Fig. S8a)</tspan></text>
<text x="577.2" y="114.2" font-size="16" fill="#111"><tspan font-style="italic">k</tspan><tspan font-style="italic" font-size="12" dy="3.6">Pi</tspan><tspan dy="-3.6" dx="3.2">(Fig. S8b)</tspan></text>
</svg>
</body></html>
